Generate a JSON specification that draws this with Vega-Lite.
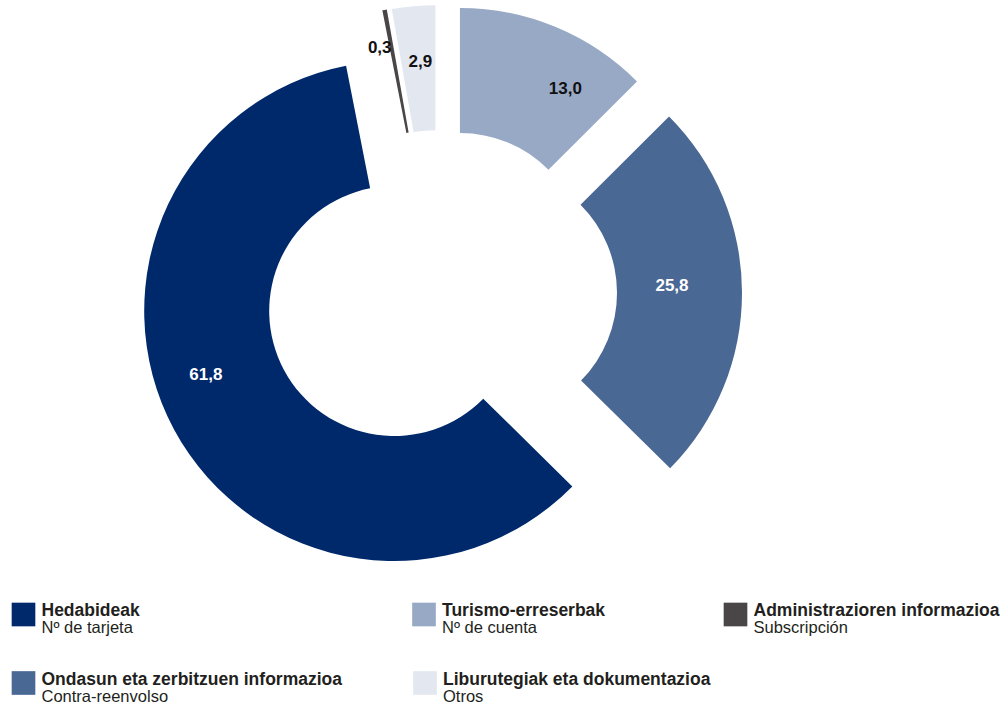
{
  "$schema": "https://vega.github.io/schema/vega-lite/v6.json",
  "padding": 0,
  "spacing": 0,
  "background": "white",
  "config": {
    "view": {"stroke": null},
    "font": "Liberation Sans",
    "locale": {"number": {"decimal": ",", "thousands": ".", "grouping": [3], "currency": ["", " €"]}}
  },
  "datasets": {
    "slices": [
      {"cat": "Turismo-erreserbak", "sub": "Nº de cuenta", "value": 13.0},
      {"cat": "Ondasun eta zerbitzuen informazioa", "sub": "Contra-reenvolso", "value": 25.8},
      {"cat": "Hedabideak", "sub": "Nº de tarjeta", "value": 61.8},
      {"cat": "Administrazioren informazioa", "sub": "Subscripción", "value": 0.3},
      {"cat": "Liburutegiak eta dokumentazioa", "sub": "Otros", "value": 2.9}
    ]
  },
  "vconcat": [
    {
      "width": 880,
      "height": 586,
      "data": {"name": "slices"},
      "transform": [
        {"window": [{"op": "sum", "field": "value", "as": "v1"}], "frame": [null, 0]},
        {"joinaggregate": [{"op": "sum", "field": "value", "as": "total"}]},
        {"calculate": "datum.v1 - datum.value", "as": "v0"},
        {"calculate": "(datum.v0 + datum.v1) / 2", "as": "vm"},
        {"calculate": "sin(2 * PI * datum.vm / datum.total)", "as": "ex"},
        {"calculate": "-cos(2 * PI * datum.vm / datum.total)", "as": "ey"}
      ],
      "encoding": {
        "xOffset": {"field": "ex", "type": "quantitative", "scale": {"domain": [-1, 1], "range": [-52, 52]}},
        "yOffset": {"field": "ey", "type": "quantitative", "scale": {"domain": [-1, 1], "range": [-38, 38]}}
      },
      "layer": [
        {
          "mark": {"type": "arc", "radius": 250, "radius2": 125, "strokeWidth": 0},
          "encoding": {
            "theta": {"field": "v1", "type": "quantitative", "stack": null, "scale": {"zero": true}},
            "theta2": {"field": "v0"},
            "color": {
              "field": "cat",
              "type": "nominal",
              "scale": {
                "domain": ["Hedabideak", "Ondasun eta zerbitzuen informazioa", "Turismo-erreserbak", "Liburutegiak eta dokumentazioa", "Administrazioren informazioa"],
                "range": ["#00296B", "#4A6894", "#98A9C6", "#E2E7F0", "#4A4647"]
              },
              "legend": null
            }
          }
        },
        {
          "transform": [{"filter": {"field": "cat", "oneOf": ["Turismo-erreserbak", "Hedabideak"]}}],
          "mark": {"type": "text", "radius": 199, "thetaOffset": 0.165, "fontSize": 17, "fontWeight": "bold", "align": "center", "baseline": "middle"},
          "encoding": {
            "theta": {"field": "vm", "type": "quantitative", "stack": null},
            "text": {"field": "value", "type": "quantitative", "format": ".1f"},
            "color": {"condition": {"test": "datum.cat === 'Hedabideak'", "value": "#ffffff"}, "value": "#111111"}
          }
        },
        {
          "transform": [{"filter": {"field": "cat", "equal": "Ondasun eta zerbitzuen informazioa"}}],
          "mark": {"type": "text", "radius": 180, "dy": -6, "fontSize": 17, "fontWeight": "bold", "align": "center", "baseline": "middle", "color": "#ffffff"},
          "encoding": {
            "theta": {"field": "vm", "type": "quantitative", "stack": null},
            "text": {"field": "value", "type": "quantitative", "format": ".1f"}
          }
        },
        {
          "transform": [{"filter": {"field": "cat", "equal": "Administrazioren informazioa"}}],
          "mark": {"type": "text", "radius": 211, "dx": -12, "fontSize": 17, "fontWeight": "bold", "align": "center", "baseline": "middle", "color": "#111111"},
          "encoding": {
            "theta": {"field": "vm", "type": "quantitative", "stack": null},
            "text": {"field": "value", "type": "quantitative", "format": ".1f"}
          }
        },
        {
          "transform": [{"filter": {"field": "cat", "equal": "Liburutegiak eta dokumentazioa"}}],
          "mark": {"type": "text", "radius": 194, "dx": 2, "fontSize": 17, "fontWeight": "bold", "align": "center", "baseline": "middle", "color": "#111111"},
          "encoding": {
            "theta": {"field": "vm", "type": "quantitative", "stack": null},
            "text": {"field": "value", "type": "quantitative", "format": ".1f"}
          }
        }
      ]
    },
    {
      "spacing": 18,
      "vconcat": [
        {
          "width": 1007,
          "height": 57,
          "data": {"name": "slices"},
          "transform": [{"filter": {"field": "cat", "oneOf": ["Hedabideak", "Turismo-erreserbak", "Administrazioren informazioa"]}}],
          "encoding": {
            "x": {
              "field": "cat",
              "type": "nominal",
              "axis": null,
              "scale": {
                "type": "point",
                "padding": 0,
                "range": [23.5, 735.5],
                "domain": ["Hedabideak", "s1", "s2", "s3", "s4", "s5", "s6", "s7", "s8", "Turismo-erreserbak", "s10", "s11", "s12", "s13", "s14", "s15", "Administrazioren informazioa"]
              }
            }
          },
          "layer": [
            {
              "mark": {"type": "square", "size": 560, "opacity": 1, "strokeWidth": 0},
              "encoding": {
                "color": {
                  "field": "cat",
                  "type": "nominal",
                  "scale": {
                    "domain": ["Hedabideak", "Ondasun eta zerbitzuen informazioa", "Turismo-erreserbak", "Liburutegiak eta dokumentazioa", "Administrazioren informazioa"],
                    "range": ["#00296B", "#4A6894", "#98A9C6", "#E2E7F0", "#4A4647"]
                  },
                  "legend": null
                }
              }
            },
            {
              "mark": {"type": "text", "align": "left", "baseline": "alphabetic", "dx": 18, "dy": 1.5, "fontSize": 17.5, "fontWeight": "bold", "color": "#231F20"},
              "encoding": {"text": {"field": "cat"}}
            },
            {
              "mark": {"type": "text", "align": "left", "baseline": "alphabetic", "dx": 18, "dy": 18.5, "fontSize": 16.5, "fontWeight": "normal", "color": "#231F20"},
              "encoding": {"text": {"field": "sub"}}
            }
          ]
        },
        {
          "width": 1007,
          "height": 44,
          "data": {"name": "slices"},
          "transform": [{"filter": {"field": "cat", "oneOf": ["Ondasun eta zerbitzuen informazioa", "Liburutegiak eta dokumentazioa"]}}],
          "encoding": {
            "x": {
              "field": "cat",
              "type": "nominal",
              "axis": null,
              "scale": {
                "type": "point",
                "padding": 0,
                "range": [23.5, 425],
                "domain": ["Ondasun eta zerbitzuen informazioa", "Liburutegiak eta dokumentazioa"]
              }
            }
          },
          "layer": [
            {
              "mark": {"type": "square", "size": 560, "opacity": 1, "strokeWidth": 0},
              "encoding": {
                "color": {
                  "field": "cat",
                  "type": "nominal",
                  "scale": {
                    "domain": ["Hedabideak", "Ondasun eta zerbitzuen informazioa", "Turismo-erreserbak", "Liburutegiak eta dokumentazioa", "Administrazioren informazioa"],
                    "range": ["#00296B", "#4A6894", "#98A9C6", "#E2E7F0", "#4A4647"]
                  },
                  "legend": null
                }
              }
            },
            {
              "mark": {"type": "text", "align": "left", "baseline": "alphabetic", "dx": 18, "dy": 1.5, "fontSize": 17.5, "fontWeight": "bold", "color": "#231F20"},
              "encoding": {"text": {"field": "cat"}}
            },
            {
              "mark": {"type": "text", "align": "left", "baseline": "alphabetic", "dx": 18, "dy": 18.5, "fontSize": 16.5, "fontWeight": "normal", "color": "#231F20"},
              "encoding": {"text": {"field": "sub"}}
            }
          ]
        }
      ]
    }
  ]
}
